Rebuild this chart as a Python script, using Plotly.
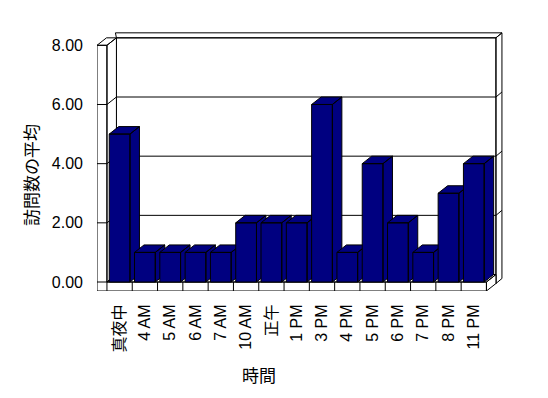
import plotly.graph_objects as go

# ---- data ----
categories = ["真夜中", "4 AM", "5 AM", "6 AM", "7 AM", "10 AM", "正午",
              "1 PM", "3 PM", "4 PM", "5 PM", "6 PM", "7 PM", "8 PM", "11 PM"]
values = [5, 1, 1, 1, 1, 2, 2, 2, 6, 1, 4, 2, 1, 3, 4]
y_ticks = [0, 2, 4, 6, 8]
x_title = "時間"
y_title = "訪問数の平均"

# ---- 3D-look geometry (in axis units) ----
N = len(categories)
YMAX = y_ticks[-1]
BAR_W = 0.82          # bar width (category units)
DX, DY = 0.375, 0.253  # depth offset of the oblique projection
WALL_T = 0.393        # left wall thickness (category units)
FLOOR_T = 0.304       # floor thickness (value units)
BW_DX, BW_DY = 0.237, 0.169  # back wall thickness offset

NAVY = "#000080"
FONT = "Liberation Sans, Arial, Noto Sans CJK JP, sans-serif"

x_lo = -0.5 - WALL_T
x_hi_front = N - 0.5
x_back_l = -0.5 + DX
x_back_r = x_hi_front + DX

fig = go.Figure()


def poly(shapes, fill="white"):
    xs, ys = [], []
    for s in shapes:
        for (a, b) in s:
            xs.append(a)
            ys.append(b)
        xs.append(s[0][0]); ys.append(s[0][1])
        xs.append(None); ys.append(None)
    fig.add_trace(go.Scatter(x=xs, y=ys, mode="lines", fill="toself",
                             fillcolor=fill, line=dict(color="black", width=1),
                             hoverinfo="skip", showlegend=False))


def lines(segs):
    xs, ys = [], []
    for s in segs:
        for (a, b) in s:
            xs.append(a)
            ys.append(b)
        xs.append(None); ys.append(None)
    fig.add_trace(go.Scatter(x=xs, y=ys, mode="lines",
                             line=dict(color="black", width=1),
                             hoverinfo="skip", showlegend=False))


# back wall (face, top strip, right side)
bw_bottom = DY - FLOOR_T
poly([
    [(x_back_l, bw_bottom), (x_back_r, bw_bottom), (x_back_r, YMAX + DY), (x_back_l, YMAX + DY)],
    [(x_back_l, YMAX + DY), (x_back_r, YMAX + DY), (x_back_r + BW_DX, YMAX + DY + BW_DY),
     (x_back_l - 0.04, YMAX + DY + BW_DY)],
    [(x_back_r, bw_bottom), (x_back_r, YMAX + DY), (x_back_r + BW_DX, YMAX + DY + BW_DY),
     (x_back_r + BW_DX, bw_bottom + BW_DY)],
])
# gridlines on back wall
lines([[(x_back_l, v + DY), (x_back_r, v + DY), (x_back_r + BW_DX, v + DY + BW_DY)]
       for v in y_ticks[1:-1]])

# floor (front face, top, right side)
poly([
    [(x_lo, -FLOOR_T), (x_hi_front, -FLOOR_T), (x_hi_front, 0), (x_lo, 0)],
    [(-0.5, 0), (x_hi_front, 0), (x_hi_front + DX, DY), (-0.5 + DX, DY)],
    [(x_hi_front, -FLOOR_T), (x_hi_front + DX, -FLOOR_T + DY), (x_hi_front + DX, DY), (x_hi_front, 0)],
])
# category dividers on the floor front face
lines([[(i + 0.5, 0), (i + 0.5, -FLOOR_T)] for i in range(N - 1)])

# left wall (front face, top, inner side)
poly([
    [(x_lo, -FLOOR_T), (-0.5, -FLOOR_T), (-0.5, YMAX), (x_lo, YMAX)],
    [(x_lo, YMAX), (-0.5, YMAX), (-0.5 + DX, YMAX + DY), (x_lo + DX, YMAX + DY)],
    [(-0.5, 0), (-0.5 + DX, DY), (-0.5 + DX, YMAX + DY), (-0.5, YMAX)],
])
# gridlines/ticks on left wall
lines([[(x_lo, v), (-0.5, v), (-0.5 + DX, v + DY)] for v in y_ticks[:-1]])

# bars, drawn left to right so each front face hides the previous side face
hw = BAR_W / 2
for i, v in enumerate(values):
    l, r = i - hw, i + hw
    poly([
        [(l, 0), (r, 0), (r, v), (l, v)],
        [(l, v), (r, v), (r + DX, v + DY), (l + DX, v + DY)],
        [(r, 0), (r + DX, DY), (r + DX, v + DY), (r, v)],
    ], fill=NAVY)

fig.update_layout(
    width=548, height=398,
    margin=dict(l=97, r=45, t=32, b=107),
    paper_bgcolor="white", plot_bgcolor="white",
    showlegend=False,
    font=dict(family=FONT, size=16, color="black"),
    xaxis=dict(range=[x_lo, 15.154], showgrid=False, zeroline=False, showline=False,
               tickmode="array", tickvals=list(range(N)), ticktext=categories,
               tickangle=-90, ticks="outside", ticklen=6, tickcolor="rgba(0,0,0,0)",
               tickfont=dict(family=FONT, size=16, color="#000000")),
    yaxis=dict(range=[-FLOOR_T, 8.45], showgrid=False, zeroline=False, showline=False,
               tickmode="array", tickvals=y_ticks,
               ticktext=[f"{t:.2f}" for t in y_ticks],
               ticks="", ticklabelstandoff=13,
               tickfont=dict(family=FONT, size=16, color="#000000")),
    annotations=[
        dict(text=x_title, xref="paper", yref="paper", x=(259 - 97) / 406, y=-(374 - 291) / 259,
             showarrow=False, font=dict(family="Noto Sans CJK JP", size=17, color="black"),
             xanchor="center", yanchor="middle"),
        dict(text=y_title, xref="paper", yref="paper", x=-(97 - 30) / 406, y=(291 - 175) / 259,
             showarrow=False, textangle=-90, font=dict(family="Noto Sans CJK JP", size=17, color="black"),
             xanchor="center", yanchor="middle"),
    ],
)

fig.write_html("out.html")
